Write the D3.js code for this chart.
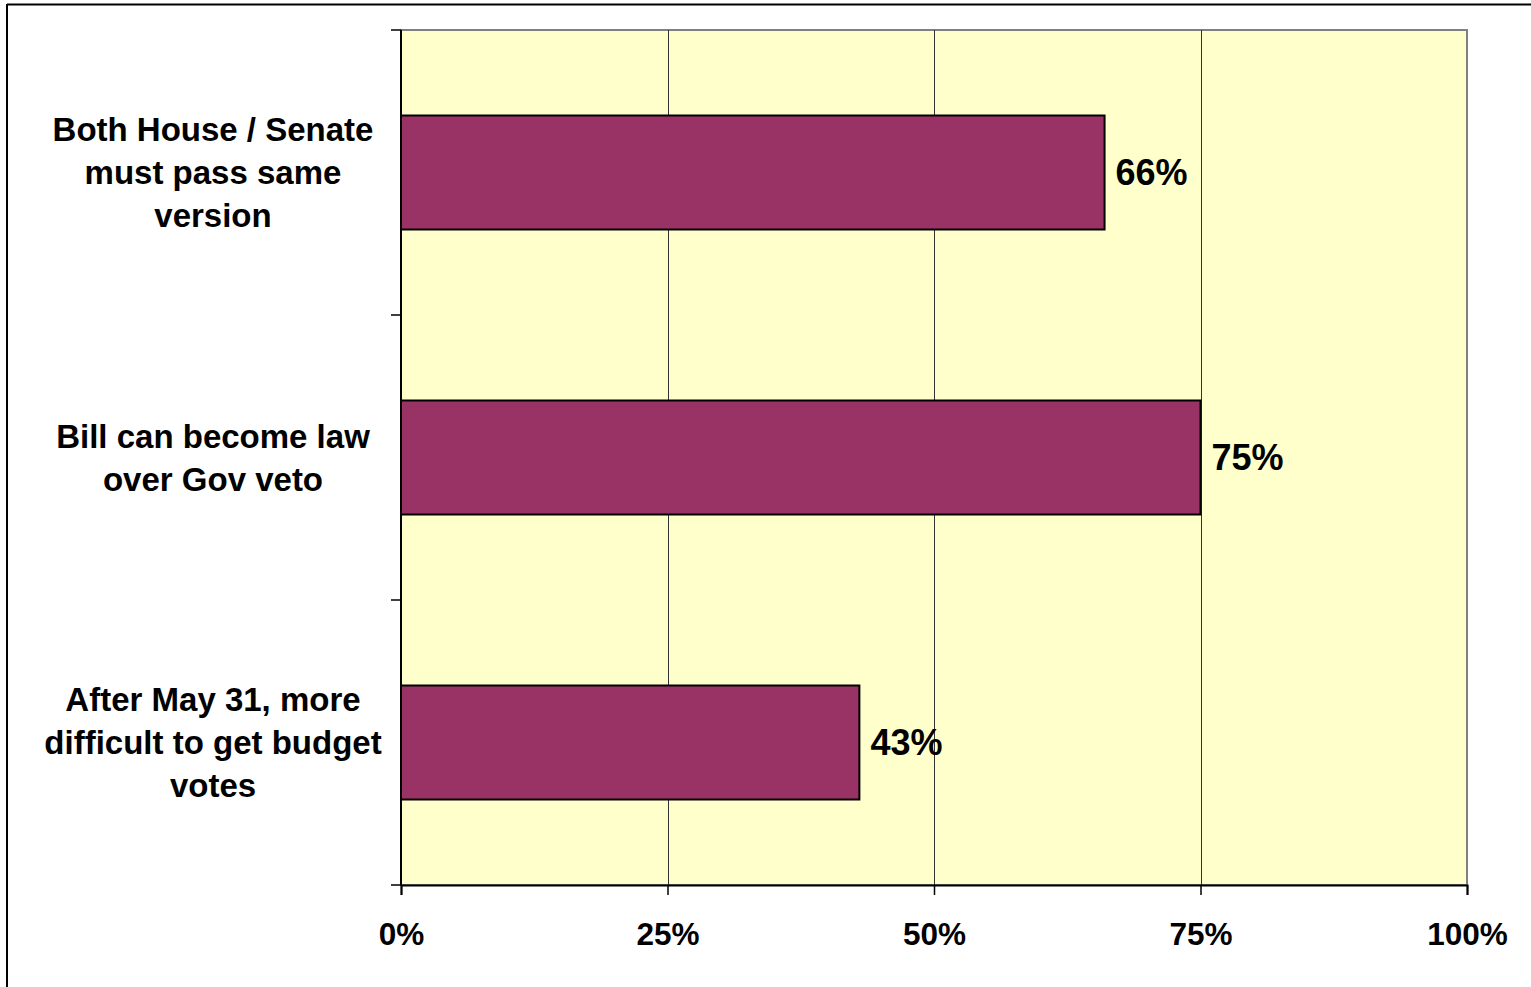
<!DOCTYPE html>
<html><head><meta charset="utf-8">
<script src="https://cdn.jsdelivr.net/npm/d3@7"></script>
<style>body{margin:0;background:#fff}svg{display:block}</style>
</head><body>
<script>
const categories = [
  ["Both House / Senate", "must pass same", "version"],
  ["Bill can become law", "over Gov veto"],
  ["After May 31, more", "difficult to get budget", "votes"]
];
const values = [0.66, 0.75, 0.43];
const valueLabels = ["66%", "75%", "43%"];
const xTicks = [0, 0.25, 0.5, 0.75, 1];
const xTickLabels = ["0%", "25%", "50%", "75%", "100%"];

const W = 1531, H = 987;
const svg = d3.select("body").append("svg").attr("width", W).attr("height", H);
const font = "'Liberation Sans', Arial, sans-serif";

// outer border
svg.append("line").attr("x1", 7).attr("x2", 1531).attr("y1", 4.5).attr("y2", 4.5).attr("stroke", "#000").attr("stroke-width", 2);
svg.append("line").attr("x1", 7).attr("x2", 7).attr("y1", 4).attr("y2", 987).attr("stroke", "#000").attr("stroke-width", 2);

const L = 401, R = 1467, T = 30, B = 885;
const x = d3.scaleLinear().domain([0, 1]).range([L, R]);
const y = d3.scaleBand().domain(d3.range(categories.length)).range([T, B]).paddingInner(0.6).paddingOuter(0.3);
const yBand = d3.scaleBand().domain(d3.range(categories.length)).range([T, B]);

// plot area
svg.append("rect").attr("x", L).attr("y", T).attr("width", R - L).attr("height", B - T)
  .attr("fill", "#ffffcc").attr("stroke", "#808080").attr("stroke-width", 2);

// gridlines
svg.append("g").selectAll("line").data(xTicks.slice(1, -1)).join("line")
  .attr("x1", d => Math.round(x(d)) + 0.5).attr("x2", d => Math.round(x(d)) + 0.5)
  .attr("y1", T).attr("y2", B).attr("stroke", "#333").attr("stroke-width", 1);

// x axis
const xAxis = d3.axisBottom(x).tickValues(xTicks).tickFormat((d, i) => xTickLabels[i]).tickSize(10).tickPadding(28);
const gx = svg.append("g").attr("transform", `translate(0,${B})`).call(xAxis);
gx.select(".domain").attr("stroke", "#000").attr("stroke-width", 2);
gx.selectAll(".tick line").attr("stroke", "#000").attr("stroke-width", 1.5);
gx.selectAll(".tick text").attr("font-family", font).attr("font-weight", "bold").attr("font-size", 31.5).attr("fill", "#000");

// y axis line + ticks at band boundaries
svg.append("line").attr("x1", L).attr("x2", L).attr("y1", T).attr("y2", B).attr("stroke", "#000").attr("stroke-width", 2);
const bounds = d3.range(categories.length + 1).map(i => i < categories.length ? yBand(i) : B);
svg.append("g").selectAll("line").data(bounds).join("line")
  .attr("x1", L - 10).attr("x2", L).attr("y1", d => d).attr("y2", d => d).attr("stroke", "#000").attr("stroke-width", 1.5);

// bars
svg.append("g").selectAll("rect").data(values).join("rect")
  .attr("x", x(0)).attr("y", (d, i) => y(i)).attr("width", d => x(d) - x(0)).attr("height", y.bandwidth())
  .attr("fill", "#993366").attr("stroke", "#000").attr("stroke-width", 2);

// value labels
svg.append("g").selectAll("text").data(values).join("text")
  .attr("x", d => x(d) + 11).attr("y", (d, i) => y(i) + y.bandwidth() / 2)
  .attr("dy", "0.36em").attr("font-family", font).attr("font-weight", "bold").attr("font-size", 36)
  .text((d, i) => valueLabels[i]);

// category labels
const lineH = 43;
categories.forEach((lines, i) => {
  const cy = yBand(i) + yBand.bandwidth() / 2;
  const t = svg.append("text").attr("text-anchor", "middle").attr("font-family", font)
    .attr("font-weight", "bold").attr("font-size", 33).attr("fill", "#000");
  lines.forEach((ln, j) => {
    t.append("tspan").attr("x", 213).attr("y", cy + (j - (lines.length - 1) / 2) * lineH).attr("dy", "0.36em").text(ln);
  });
});
</script>
</body></html>
